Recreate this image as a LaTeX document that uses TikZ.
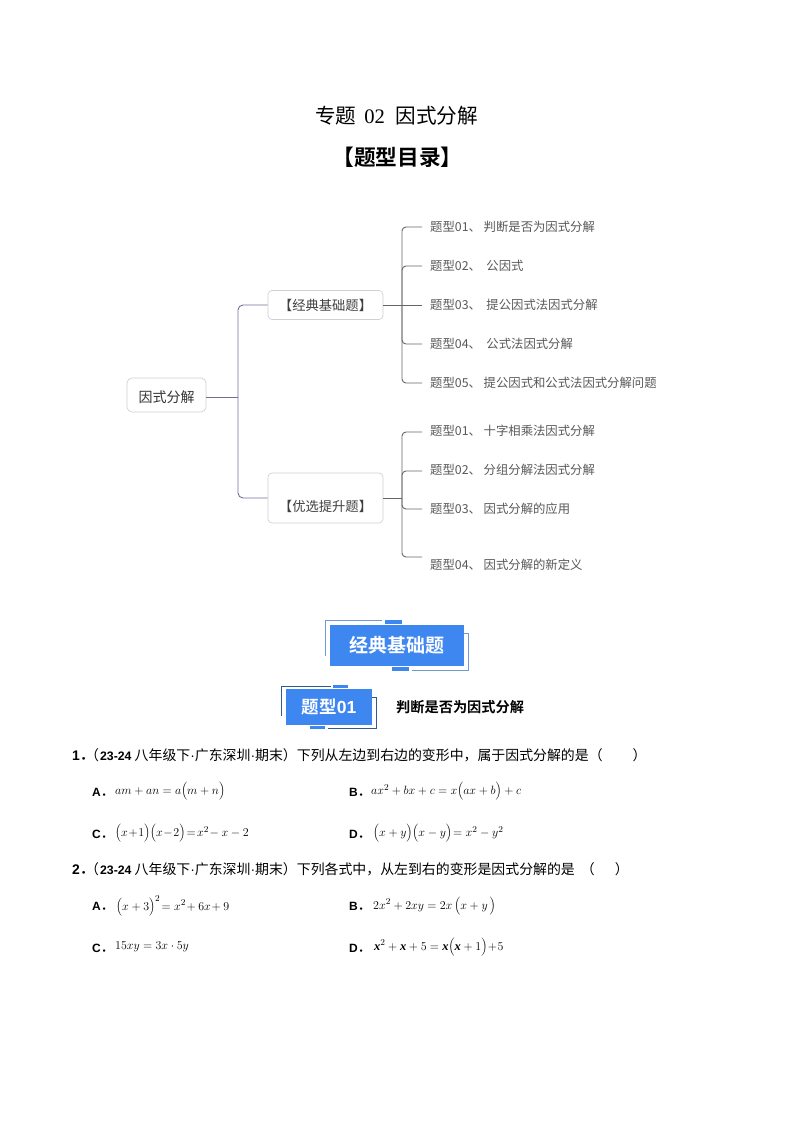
\documentclass[tikz,border=0pt]{standalone}
\usepackage{fontspec}
\setmainfont{Noto Sans CJK SC}[BoldFont={Noto Sans CJK SC Bold}]
\newfontfamily\latinbold{Liberation Sans}[BoldFont={Liberation Sans Bold}]
\newfontfamily\serifm{Liberation Serif}[BoldItalicFont={Liberation Serif Bold Italic}]
\newcommand\boldex{\mbox{\serifm\bfseries\itshape x}}
\newcommand\optlabel[1]{{\latinbold\bfseries #1}{\bfseries ．}}
\newcommand\srcyear{{\latinbold\bfseries\fontsize{12.3}{15}\selectfont 23-24}}
\newcommand\middot{{\latinbold ·}}
\begin{document}
\begin{tikzpicture}[x=1pt,y=-1pt,
  rootbox/.style={draw=black!18,rounded corners=5pt,line width=.7pt,inner sep=0pt,font=\fontsize{14}{16}\selectfont,text=black!80},
  midbox/.style={draw=black!18,rounded corners=4pt,line width=.7pt,inner sep=0pt,font=\fontsize{13.3}{15}\selectfont,text=black!75},
  leaf/.style={anchor=west,inner sep=0pt,font=\fontsize{12.35}{14}\selectfont,text=black!65},
  trunkA/.style={draw=trunkpurple,line width=.9pt,rounded corners=5pt},
  trunkB/.style={draw=black!60,line width=.9pt,rounded corners=4pt},
  q/.style={anchor=west,inner sep=0pt,font=\fontsize{13.9}{15}\selectfont,text=black},
  opt/.style={anchor=west,inner sep=0pt,font=\fontsize{12}{14}\selectfont},
  eq/.style={anchor=west,inner sep=0pt,font=\fontsize{12.5}{15}\selectfont},
  bluebar/.style={fill=bannerblue,draw=none},
  frameline/.style={draw=frameblue,line width=1.1pt}]
\definecolor{bannerblue}{HTML}{3F87F0}
\definecolor{frameblue}{HTML}{6E9BD8}
\definecolor{framedark}{HTML}{2F5C8F}
\definecolor{trunkpurple}{HTML}{6F6F9F}
\useasboundingbox[fill=white] (0,0) rectangle (794,1123);
% titles
\node[inner sep=0pt,font=\fontsize{20.6}{24}\selectfont] (title) at (396.5,115.5) {专题\hspace{8pt}{\serifm 02}\hspace{10.5pt}因式分解};
\node[inner sep=0pt,font=\bfseries\fontsize{21.7}{25}\selectfont] (toc) at (397.5,157) {【题型目录】};
% mind map boxes
\node[rootbox,minimum width=79pt,minimum height=34pt] (root) at (166.5,395) {\raisebox{-7pt}[0pt][0pt]{因式分解}};
\node[midbox,minimum width=115pt,minimum height=29pt] (a) at (325.5,305) {【经典基础题】};
\node[midbox,minimum width=115pt,minimum height=50pt] (b) at (325.5,498) {\raisebox{-13.7pt}[0pt][0pt]{【优选提升题】}};
% leaves
\node[leaf] (a1) at (430,226.5) {题型01、 判断是否为因式分解};
\node[leaf] (a2) at (430,265.5) {题型02、\ \ 公因式};
\node[leaf] (a3) at (430,304.5) {题型03、\ \ 提公因式法因式分解};
\node[leaf] (a4) at (430,343.5) {题型04、\ \ 公式法因式分解};
\node[leaf] (a5) at (430,382.5) {题型05、 提公因式和公式法因式分解问题};
\node[leaf] (b1) at (430,431) {题型01、 十字相乘法因式分解};
\node[leaf] (b2) at (430,470) {题型02、 分组分解法因式分解};
\node[leaf] (b3) at (430,509) {题型03、 因式分解的应用};
\node[leaf] (b4) at (430,565) {题型04、 因式分解的新定义};
% free ends
\coordinate (ta) at (238,397);
\coordinate (tb) at (402,305);
\coordinate (tc) at (402,498);
\coordinate (ea1) at (422,227); \coordinate (ea2) at (422,266); \coordinate (ea3) at (422,305);
\coordinate (ea4) at (422,344); \coordinate (ea5) at (422,383);
\coordinate (eb1) at (422,432); \coordinate (eb2) at (422,471); \coordinate (eb3) at (422,509); \coordinate (eb4) at (422,557);
% connectors
\draw[trunkA] (root.east |- ta) -- (ta);
\draw[trunkA] (ta) |- (a.west);
\draw[trunkA] (ta) |- (b.west);
\draw[trunkB,line width=1pt] (a.east) -- (ea3);
\draw[trunkB] (tb) |- (ea1);
\draw[trunkB] (tb) |- (ea2);
\draw[trunkB] (tb) |- (ea4);
\draw[trunkB] (tb) |- (ea5);
\draw[trunkB,line width=1pt] (b.east) -- (tc);
\draw[trunkB] (tc) |- (eb1);
\draw[trunkB] (tc) |- (eb2);
\draw[trunkB] (tc) |- (eb3);
\draw[trunkB] (tc) |- (eb4);
% big banner
\draw[frameline] (382,620.5) -- (325.5,620.5) -- (325.5,656);
\draw[frameline] (464,633.5) -- (468.5,633.5) -- (468.5,670.5) -- (412,670.5);
\fill[bluebar] (385,620) rectangle (402,624);
\fill[bluebar] (392,667) rectangle (409,671);
\node[bluebar,minimum width=134pt,minimum height=41pt,inner sep=0pt,text=white,font=\bfseries\fontsize{19}{22}\selectfont] (banner) at (397,645.5) {经典基础题};
% small banner
\draw[framedark,line width=.9pt] (331,686) -- (281.5,686) -- (281.5,716);
\draw[framedark,line width=.9pt] (372,697.5) -- (376.5,697.5) -- (376.5,728.5) -- (328,728.5);
\fill[bluebar] (333,685) rectangle (348,688);
\fill[bluebar] (310,726) rectangle (325,729);
\node[bluebar,minimum width=86pt,minimum height=36pt,inner sep=0pt,text=white,font=\bfseries\fontsize{17.5}{20}\selectfont] (typebanner) at (329,707) {题型{\latinbold\bfseries 01}};
\node[anchor=west,inner sep=0pt,font=\bfseries\fontsize{14.2}{16}\selectfont] (typetext) at (396,707.5) {判断是否为因式分解};
% question 1
\node[q] (q1) at (72,755.5) {\optlabel{1}\hspace{-8.6pt}（\hspace{1pt}\srcyear{} 八年级下\middot{}广东深圳\middot{}期末）下列从左边到右边的变形中，属于因式分解的是（\hspace{30pt}）};
\node[opt] (q1A) at (92,792) {\optlabel{A}};
\node[eq] (q1Ae) at (115,791.5) {$am+an=a\Bigl(m+n\Bigr)$};
\node[opt] (q1B) at (349,792) {\optlabel{B}};
\node[eq] (q1Be) at (371,791.5) {$ax^{2}+bx+c=x\Bigl(ax+b\Bigr)+c$};
\node[opt] (q1C) at (92,834) {\optlabel{C}};
\node[eq] (q1Ce) at (115,833.5) {$\Bigl(x\!+\!1\Bigr)\Bigl(x\!-\!2\Bigr)\!=\!x^{2}\!-x-2$};
\node[opt] (q1D) at (349,834) {\optlabel{D}};
\node[eq] (q1De) at (373,833.5) {$\Bigl(x+y\Bigr)\Bigl(x-y\Bigr)\!=x^{2}-y^{2}$};
% question 2
\node[q] (q2) at (72,869.5) {\optlabel{2}\hspace{-8.6pt}（\hspace{1pt}\srcyear{} 八年级下\middot{}广东深圳\middot{}期末）下列各式中，从左到右的变形是因式分解的是\hspace{6pt}（\hspace{20pt}）};
\node[opt] (q2A) at (92,906) {\optlabel{A}};
\node[eq] (q2Ae) at (116,906) {$\Bigl(x+3\Bigr)^{2}\!=x^{2}\!+6x\!+9$};
\node[opt] (q2B) at (349,906) {\optlabel{B}};
\node[eq] (q2Be) at (373,906) {$2x^{2}+2xy=2x\,\Bigl(x+y\,\Bigr)$};
\node[opt] (q2C) at (92,948) {\optlabel{C}};
\node[eq] (q2Ce) at (115,947) {$15xy=3x\cdot 5y$};
\node[opt] (q2D) at (349,948) {\optlabel{D}};
\node[eq] (q2De) at (374,947) {$\boldex^{2}+\boldex+5=\boldex\Bigl(\boldex+1\Bigr)\!+\!5$};
\end{tikzpicture}
\end{document}
